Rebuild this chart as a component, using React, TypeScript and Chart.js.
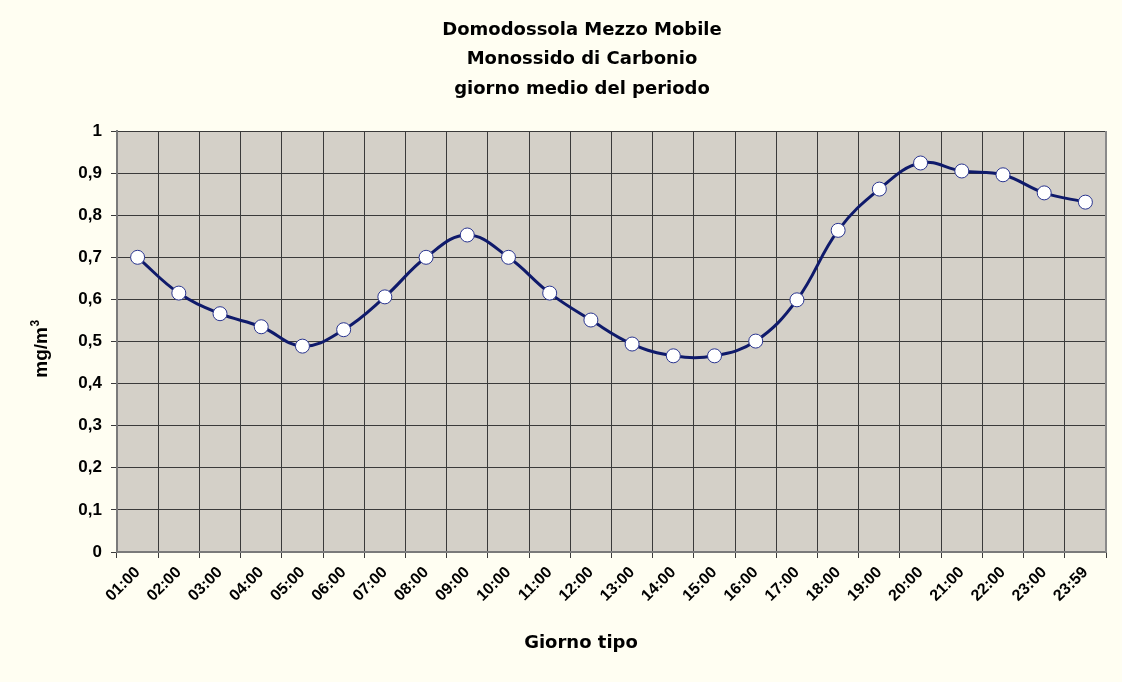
import { useEffect, useRef } from "react";
import { Chart, registerables } from "chart.js";

Chart.register(...registerables);

const categories = [
  "01:00", "02:00", "03:00", "04:00", "05:00", "06:00", "07:00", "08:00",
  "09:00", "10:00", "11:00", "12:00", "13:00", "14:00", "15:00", "16:00",
  "17:00", "18:00", "19:00", "20:00", "21:00", "22:00", "23:00", "23:59",
];
const coValues = [
  0.70, 0.615, 0.566, 0.535, 0.489, 0.528, 0.606, 0.70,
  0.753, 0.70, 0.615, 0.551, 0.494, 0.466, 0.466, 0.501,
  0.599, 0.764, 0.862, 0.924, 0.905, 0.896, 0.853, 0.831,
];
const yMin = 0;
const yMax = 1;
const yStep = 0.1;
const titleLines = ["Domodossola Mezzo Mobile", "Monossido di Carbonio", "giorno medio del periodo"];
const xAxisTitle = "Giorno tipo";
const yAxisTitleMain = "mg/m";
const yAxisTitleSup = "3";

const CREAM = "#FFFEF2";
const PLOT_BG = "#D4D0C8";
const NAVY = "#0F1A6B";

export default function App() {
  const canvasRef = useRef<HTMLCanvasElement | null>(null);

  useEffect(() => {
    document.body.style.margin = "0";
    const canvas = canvasRef.current;
    if (!canvas) return;

    const decorPlugin = {
      id: "decor",
      beforeDraw(chart: any) {
        const { ctx, chartArea } = chart;
        ctx.save();
        ctx.fillStyle = CREAM;
        ctx.fillRect(0, 0, chart.width, chart.height);
        ctx.fillStyle = PLOT_BG;
        ctx.fillRect(chartArea.left, chartArea.top, chartArea.right - chartArea.left, chartArea.bottom - chartArea.top);
        ctx.restore();
      },
      afterDraw(chart: any) {
        const { ctx, chartArea } = chart;
        ctx.save();
        ctx.strokeStyle = "#8a8a8a";
        ctx.lineWidth = 2;
        ctx.beginPath();
        ctx.moveTo(chartArea.right, chartArea.top);
        ctx.lineTo(chartArea.right, chartArea.bottom);
        ctx.stroke();

        ctx.fillStyle = "#000";
        ctx.textAlign = "center";
        ctx.textBaseline = "middle";
        ctx.font = "bold 18px 'DejaVu Sans'";
        const cx = 582;
        titleLines.forEach((t, i) => ctx.fillText(t, cx, 30 + i * 29.5));
        ctx.fillText(xAxisTitle, 581, 643);

        // y axis title, rotated
        ctx.translate(47, 349);
        ctx.rotate(-Math.PI / 2);
        ctx.textBaseline = "alphabetic";
        ctx.font = "bold 19px 'Liberation Sans'";
        const wMain = ctx.measureText(yAxisTitleMain).width;
        ctx.font = "bold 12px 'Liberation Sans'";
        const wSup = ctx.measureText(yAxisTitleSup).width;
        const start = -(wMain + wSup) / 2;
        ctx.textAlign = "left";
        ctx.font = "bold 19px 'Liberation Sans'";
        ctx.fillText(yAxisTitleMain, start, 0);
        ctx.font = "bold 12px 'Liberation Sans'";
        ctx.fillText(yAxisTitleSup, start + wMain + 0.5, -8);
        ctx.restore();
      },
    };

    const chart = new Chart(canvas, {
      type: "line",
      data: {
        labels: categories,
        datasets: [
          {
            label: "CO",
            data: coValues,
            borderColor: NAVY,
            borderWidth: 3,
            tension: 0.4,
            pointRadius: 7,
            pointBackgroundColor: "#FFFFFF",
            pointBorderColor: "#2A3590",
            pointBorderWidth: 1,
            fill: false,
          },
        ],
      },
      options: {
        responsive: false,
        animation: false,
        devicePixelRatio: 1,
        layout: { padding: { top: 131, right: 16, left: 0, bottom: 0 } },
        plugins: {
          legend: { display: false },
          title: { display: false },
          tooltip: { enabled: false },
        },
        scales: {
          x: {
            type: "category",
            offset: true,
            grid: { offset: true, color: "#3a3a3a", lineWidth: 1, tickLength: 6, drawTicks: true },
            border: { color: "#7a7a7a", width: 2 },
            ticks: {
              autoSkip: false,
              maxRotation: 45,
              minRotation: 45,
              padding: 5,
              labelOffset: 0,
              color: "#000",
              font: { family: "'Liberation Sans'", weight: "bold", size: 16 },
            },
            afterFit: (s: any) => {
              s.height = 130;
            },
          },
          y: {
            min: yMin,
            max: yMax,
            grid: { color: "#3a3a3a", lineWidth: 1, tickLength: 6, drawTicks: true },
            border: { color: "#7a7a7a", width: 2 },
            ticks: {
              stepSize: yStep,
              padding: 9,
              color: "#000",
              font: { family: "'Liberation Sans'", weight: "bold", size: 17 },
              callback: (v: any) => {
                const n = Number(v);
                if (n === 0) return "0";
                if (Math.abs(n - 1) < 1e-9) return "1";
                return n.toFixed(1).replace(".", ",");
              },
            },
            afterFit: (s: any) => {
              s.width = 117;
            },
          },
        },
      },
      plugins: [decorPlugin],
    } as any);

    return () => chart.destroy();
  }, []);

  return (
    <div style={{ position: "fixed", left: 0, top: 0, width: 1122, height: 682, background: CREAM }}>
      <canvas ref={canvasRef} width={1122} height={682} style={{ display: "block" }} />
    </div>
  );
}
